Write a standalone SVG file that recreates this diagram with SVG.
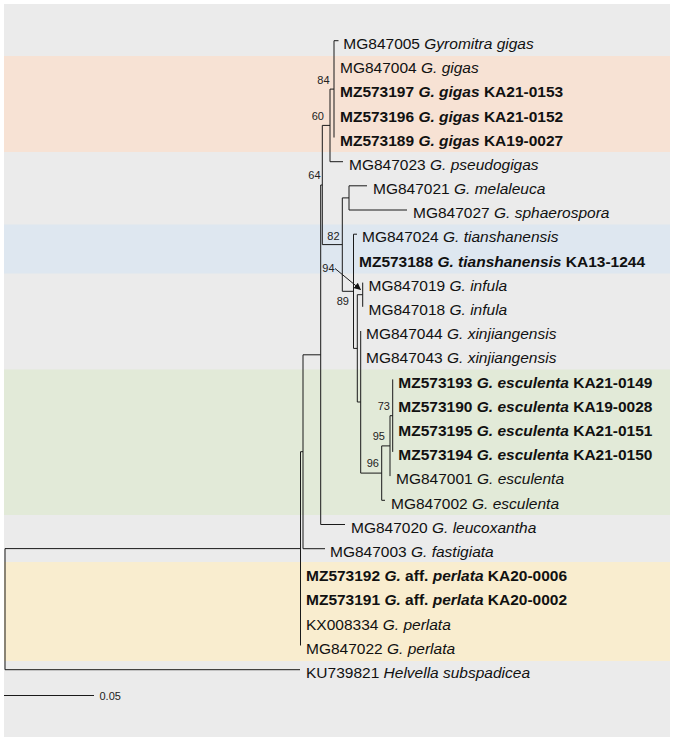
<svg xmlns="http://www.w3.org/2000/svg" width="675" height="740" viewBox="0 0 675 740">
<defs>
<style>
.t{font-family:"Liberation Sans",Arial,sans-serif;font-size:15.5px;fill:#111}
.b{font-weight:bold}
.i{font-style:italic}
.s{font-family:"Liberation Sans",Arial,sans-serif;font-size:11px;fill:#222}
.e{stroke:#1a1a1a;stroke-width:1;fill:none}
</style>
<marker id="ah" viewBox="0 0 10 10" refX="9" refY="5" markerWidth="7" markerHeight="7" orient="auto" markerUnits="userSpaceOnUse">
<path d="M0,0 L10,5 L0,10 z" fill="#111"/>
</marker>
</defs>
<rect x="0" y="0" width="675" height="740" fill="#ffffff"/>
<g id="bands">
<rect x="4" y="4" width="666" height="733" fill="#ebebeb"/>
<rect x="4" y="56" width="666" height="96" fill="#f7e2d4"/>
<rect x="4" y="224.5" width="666" height="49" fill="#dee7f0"/>
<rect x="4" y="369.5" width="666" height="145.5" fill="#e2ead8"/>
<rect x="4" y="562" width="666" height="99" fill="#f9edcf"/>
</g>
<g id="connectors" class="e">
<path d="M334,40.7V137.5M334,40.7H338.5"/>
<path d="M330,89.1V161.7M330,89.1H334M330,161.7H343"/>
<path d="M322.3,125.4V244.6M322.3,125.4H330M322.3,244.6H342.3"/>
<path d="M320.7,185V524.5M320.7,185H322.3M320.7,524.5H345"/>
<path d="M342.3,197.9V291.3M342.3,197.9H349M342.3,291.3H353.5"/>
<path d="M349,185.8V210M349,185.8H367M349,210H407"/>
<path d="M353.5,234.2V348.4M353.5,234.2H357M353.5,348.4H357.3"/>
<path d="M357.3,294.7V402M357.3,294.7H362.7M357.3,402H360.7"/>
<path d="M362.7,282.6V306.8"/>
<path d="M360.7,331V473.1M360.7,473.1H381.7"/>
<path d="M381.7,445.9V500.3M381.7,445.9H390M381.7,500.3H385"/>
<path d="M390,415.7V476.1M390,415.7H392.7"/>
<path d="M392.7,379.4V451.9"/>
<path d="M303,354.8V548.7M303,354.8H320.7M303,548.7H325"/>
<path d="M300.5,451.7V645.5M300.5,451.7H303"/>
<path d="M5,548.6V669.7M5,548.6H300.5M5,669.7H300"/>
<path d="M335,268.5L360.5,289.5" marker-end="url(#ah)"/>
</g>
<g id="support">
<text class="s" x="317.3" y="84">84</text>
<text class="s" x="311.7" y="120">60</text>
<text class="s" x="308.3" y="179.3">64</text>
<text class="s" x="327.3" y="240">82</text>
<text class="s" x="322.3" y="271.7">94</text>
<text class="s" x="336.7" y="305">89</text>
<text class="s" x="377.7" y="410">73</text>
<text class="s" x="372.7" y="440">95</text>
<text class="s" x="366.7" y="466.7">96</text>
</g>
<g id="n1"><text class="t" x="343.3" y="48.9">MG847005 <tspan class="i">Gyromitra gigas</tspan></text></g>
<g id="n2"><text class="t" x="340" y="73.1">MG847004 <tspan class="i">G. gigas</tspan></text></g>
<g id="n3"><text class="t b" x="340" y="97.3">MZ573197 <tspan class="i">G. gigas</tspan> KA21-0153</text></g>
<g id="n4"><text class="t b" x="340" y="121.5">MZ573196 <tspan class="i">G. gigas</tspan> KA21-0152</text></g>
<g id="n5"><text class="t b" x="340" y="145.7">MZ573189 <tspan class="i">G. gigas</tspan> KA19-0027</text></g>
<g id="n6"><text class="t" x="349" y="169.9">MG847023 <tspan class="i">G. pseudogigas</tspan></text></g>
<g id="n7"><text class="t" x="373" y="194">MG847021 <tspan class="i">G. melaleuca</tspan></text></g>
<g id="n8"><text class="t" x="413" y="218.2">MG847027 <tspan class="i">G. sphaerospora</tspan></text></g>
<g id="n9"><text class="t" x="362" y="242.4">MG847024 <tspan class="i">G. tianshanensis</tspan></text></g>
<g id="n10"><text class="t b" x="359" y="266.6">MZ573188 <tspan class="i">G. tianshanensis</tspan> KA13-1244</text></g>
<g id="n11"><text class="t" x="368.5" y="290.8">MG847019 <tspan class="i">G. infula</tspan></text></g>
<g id="n12"><text class="t" x="368.5" y="315">MG847018 <tspan class="i">G. infula</tspan></text></g>
<g id="n13"><text class="t" x="366" y="339.2">MG847044 <tspan class="i">G. xinjiangensis</tspan></text></g>
<g id="n14"><text class="t" x="366" y="363.4">MG847043 <tspan class="i">G. xinjiangensis</tspan></text></g>
<g id="n15"><text class="t b" x="398.3" y="387.6">MZ573193 <tspan class="i">G. esculenta</tspan> KA21-0149</text></g>
<g id="n16"><text class="t b" x="398.3" y="411.8">MZ573190 <tspan class="i">G. esculenta</tspan> KA19-0028</text></g>
<g id="n17"><text class="t b" x="398.3" y="435.9">MZ573195 <tspan class="i">G. esculenta</tspan> KA21-0151</text></g>
<g id="n18"><text class="t b" x="398.3" y="460.1">MZ573194 <tspan class="i">G. esculenta</tspan> KA21-0150</text></g>
<g id="n19"><text class="t" x="396" y="484.3">MG847001 <tspan class="i">G. esculenta</tspan></text></g>
<g id="n20"><text class="t" x="391" y="508.5">MG847002 <tspan class="i">G. esculenta</tspan></text></g>
<g id="n21"><text class="t" x="351" y="532.7">MG847020 <tspan class="i">G. leucoxantha</tspan></text></g>
<g id="n22"><text class="t" x="330" y="556.9">MG847003 <tspan class="i">G. fastigiata</tspan></text></g>
<g id="n23"><text class="t b" x="306" y="581.1">MZ573192 <tspan class="i">G.</tspan> aff. <tspan class="i">perlata</tspan> KA20-0006</text></g>
<g id="n24"><text class="t b" x="306" y="605.3">MZ573191 <tspan class="i">G.</tspan> aff. <tspan class="i">perlata</tspan> KA20-0002</text></g>
<g id="n25"><text class="t" x="306" y="629.5">KX008334 <tspan class="i">G. perlata</tspan></text></g>
<g id="n26"><text class="t" x="306" y="653.7">MG847022 <tspan class="i">G. perlata</tspan></text></g>
<g id="n27"><text class="t" x="306" y="677.9">KU739821 <tspan class="i">Helvella subspadicea</tspan></text></g>
<g id="scalebar">
<path class="e" d="M4,695.5H94"/>
<text class="s" x="99.5" y="699.5">0.05</text>
</g>
</svg>
